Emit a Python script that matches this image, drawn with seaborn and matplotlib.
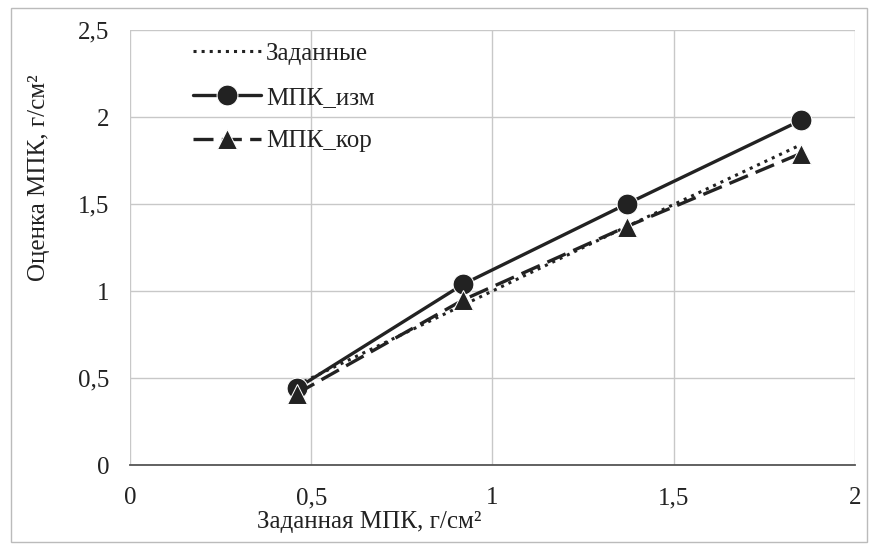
import numpy as np
import pandas as pd
import seaborn as sns
import matplotlib.pyplot as plt

# data
x_zad = [0.46, 0.92, 1.37, 1.85]
y_zad = [0.46, 0.92, 1.37, 1.84]
y_izm = [0.44, 1.04, 1.50, 1.98]
y_kor = [0.41, 0.95, 1.37, 1.79]
labels = ["Заданные", "МПК_изм", "МПК_кор"]

sns.set_theme(style='whitegrid', rc={'grid.color': '#c8c8c8', 'grid.linewidth': 1.0})
plt.rcParams['font.family'] = ['Liberation Serif', 'DejaVu Serif']

fig = plt.figure(figsize=(8.78, 5.47), dpi=100)
ax = fig.add_axes([130/878, 1 - 465/547, 725/878, 435/547])

col = '#222222'
sns.lineplot(x=x_zad, y=y_zad, ax=ax, color=col, linestyle=':', linewidth=2.2, label=labels[0])
sns.lineplot(x=x_zad, y=y_izm, ax=ax, color=col, linestyle='-', linewidth=2.4,
             marker='o', markersize=15, label=labels[1])
sns.lineplot(x=x_zad, y=y_kor, ax=ax, color=col, linestyle=(0, (6, 2.5)), linewidth=2.4,
             marker='^', markersize=15, label=labels[2])

ax.set_xlim(0, 2)
ax.set_ylim(0, 2.5)
ax.set_xticks([0, 0.5, 1, 1.5, 2])
ax.set_xticklabels(['0', '0,5', '1', '1,5', '2'])
ax.set_yticks([0, 0.5, 1, 1.5, 2, 2.5])
ax.set_yticklabels(['0', '0,5', '1', '1,5', '2', '2,5'])
ax.tick_params(axis='both', labelsize=18, colors='#222222', length=0)
ax.tick_params(axis='x', pad=16)
ax.tick_params(axis='y', pad=15)

for s in ['top', 'right', 'left']:
    ax.spines[s].set_visible(False)
ax.spines['bottom'].set_color('#555555')
ax.spines['bottom'].set_linewidth(1.3)

ax.set_xlabel("Заданная МПК, г/см²", fontsize=18, color='#222222')
ax.xaxis.set_label_coords(0.33, -0.105)
ax.set_ylabel("Оценка МПК, г/см²", fontsize=18, color='#222222')
ax.yaxis.set_label_coords(-0.11, 0.66)

leg = ax.legend(loc='upper left', bbox_to_anchor=(0.07, 1.0), frameon=False, fontsize=18,
                handlelength=2.7, handletextpad=0.2, labelspacing=0.85,
                borderaxespad=0.1, labelcolor='#222222')

fig.patches.append(plt.Rectangle((0.012, 0.01), 0.976, 0.975, transform=fig.transFigure,
                                 fill=False, edgecolor='#bbbbbb', linewidth=1))

fig.savefig('out.png', dpi=100)
